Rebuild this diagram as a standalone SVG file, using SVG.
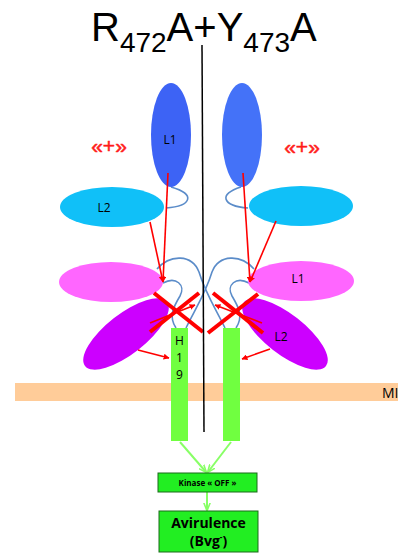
<svg xmlns="http://www.w3.org/2000/svg" width="398" height="553" viewBox="0 0 398 553">
<defs>
<style>
.lbl{font-family:"Open Sans","Liberation Sans",sans-serif;font-size:12px;fill:#000;text-anchor:middle}
.red{stroke:#ff0000;stroke-width:1.6;fill:none}
.x{stroke:#ff0000;stroke-width:4;fill:none}
.link{stroke:#5b8cc9;stroke-width:1.6;fill:none}
.gr{stroke:#88ff66;stroke-width:2;fill:none}
.plus{font-family:"Liberation Sans",sans-serif;font-size:21px;fill:#ff1a1a;text-anchor:middle;stroke:#ff1a1a;stroke-width:0.5}
</style>
<marker id="ar" viewBox="0 0 10 10" refX="9" refY="5" markerWidth="6" markerHeight="6" orient="auto" markerUnits="userSpaceOnUse"><path d="M0,0 L10,5 L0,10 z" fill="#ff0000"/></marker>
<marker id="ag" viewBox="0 0 10 10" refX="9" refY="5" markerWidth="8" markerHeight="8" orient="auto" markerUnits="userSpaceOnUse"><path d="M0,1 L10,5 L0,9" fill="none" stroke="#88ff66" stroke-width="2"/></marker>
</defs>
<rect width="398" height="553" fill="#fff"/>
<text id="title" x="91" y="41" font-family="Liberation Sans,sans-serif" font-size="40" fill="#000">R<tspan font-size="28" dy="11">472</tspan><tspan dy="-11">A+Y</tspan><tspan font-size="28" dy="11">473</tspan><tspan dy="-11">A</tspan></text>
<g id="membrane"><rect x="15" y="383" width="383" height="18" fill="#ffcc99"/><text x="382" y="398" font-family="Open Sans,Liberation Sans,sans-serif" font-size="14" fill="#000">MI</text></g>
<g id="connectors">
<path class="link" d="M171 187 C196 194 192 206 166 208"/>
<path class="link" d="M241 187 C218 194 222 206 248 208"/>
<path class="link" d="M157 269 C170 254 192 254 199 272 C205 292 214 306 225 328"/>
<path class="link" d="M254 269 C241 254 219 254 212 272 C206 292 197 306 186 328"/>
<path class="link" d="M163 283 C176 276 186 285 180 296 C174 306 168 316 176 328"/>
<path class="link" d="M249 283 C236 276 226 285 232 296 C238 306 244 316 236 328"/>
</g>
<g id="L1-left"><ellipse cx="171" cy="135" rx="20" ry="52" fill="#3d63f5"/><text class="lbl" x="170" y="144">L1</text></g>
<g id="L1-right-top"><ellipse cx="242" cy="135" rx="20" ry="52" fill="#4472f8"/></g>
<g id="L2-left"><ellipse cx="112" cy="207" rx="52" ry="20" fill="#10c0f8"/><text class="lbl" x="104" y="212">L2</text></g>
<g id="L2-right-top"><ellipse cx="301" cy="206" rx="52" ry="20" fill="#10c0f8"/></g>
<g id="L1-pink-left"><ellipse cx="111" cy="282" rx="52" ry="20" fill="#ff66ff"/></g>
<g id="L1-pink-right"><ellipse cx="301" cy="281" rx="53" ry="20" fill="#ff66ff"/><text class="lbl" x="298" y="283">L1</text></g>
<g id="L2-purple-left"><ellipse cx="126" cy="334" rx="52" ry="20" fill="#cc00ff" transform="rotate(-38 126 334)"/></g>
<g id="L2-purple-right"><ellipse cx="285" cy="334" rx="52" ry="20" fill="#cc00ff" transform="rotate(38 285 334)"/><text class="lbl" x="281" y="341">L2</text></g>
<g id="H19-left"><rect x="171" y="328" width="17" height="113" fill="#70ff40"/><text class="lbl" x="179.5" y="345">H</text><text class="lbl" x="179.5" y="362">1</text><text class="lbl" x="179.5" y="379">9</text></g>
<g id="H19-right"><rect x="223" y="328" width="17" height="113" fill="#70ff40"/></g>
<g id="plus-left"><text class="plus" x="109" y="153">«+»</text></g>
<g id="plus-right"><text class="plus" x="302" y="154">«+»</text></g>
<g id="arrows">
<line class="red" x1="168" y1="173" x2="163" y2="282" marker-end="url(#ar)"/>
<line class="red" x1="150" y1="222" x2="163" y2="282" marker-end="url(#ar)"/>
<line class="red" x1="243" y1="173" x2="250" y2="282" marker-end="url(#ar)"/>
<line class="red" x1="276" y1="221" x2="250" y2="282" marker-end="url(#ar)"/>
<line class="red" x1="150" y1="323" x2="195" y2="305" marker-end="url(#ar)"/>
<line class="red" x1="262" y1="323" x2="215" y2="305" marker-end="url(#ar)"/>
<line class="red" x1="138" y1="350" x2="169" y2="358" marker-end="url(#ar)"/>
<line class="red" x1="270" y1="349" x2="242" y2="359" marker-end="url(#ar)"/>
<line class="x" x1="154" y1="293" x2="203" y2="332"/>
<line class="x" x1="150" y1="332" x2="199" y2="293"/>
<line class="x" x1="213" y1="293" x2="263" y2="333"/>
<line class="x" x1="208" y1="333" x2="258" y2="294"/>
<line class="gr" x1="180" y1="442" x2="206" y2="472" marker-end="url(#ag)"/>
<line class="gr" x1="231" y1="442" x2="208" y2="472" marker-end="url(#ag)"/>
<line class="gr" x1="207" y1="492" x2="207" y2="510" marker-end="url(#ag)"/>
</g>
<line id="axis" x1="202" y1="45" x2="204" y2="432" stroke="#000" stroke-width="1.5"/>
<g id="kinase"><rect x="158" y="473" width="99" height="19" fill="#22ee22" stroke="#1a6b1a" stroke-width="1"/><text x="207.5" y="486" text-anchor="middle" font-family="Open Sans,Liberation Sans,sans-serif" font-size="8" font-weight="bold" fill="#000">Kinase « OFF »</text></g>
<g id="avirulence"><rect x="159" y="511" width="99" height="41" fill="#22ee22" stroke="#1a6b1a" stroke-width="1"/><text x="208.5" y="528" text-anchor="middle" font-family="Open Sans,Liberation Sans,sans-serif" font-size="14" font-weight="bold" fill="#000">Avirulence</text><text x="208.5" y="546" text-anchor="middle" font-family="Open Sans,Liberation Sans,sans-serif" font-size="14" font-weight="bold" fill="#000">(Bvg<tspan font-size="8" dy="-6">-</tspan><tspan dy="6">)</tspan></text></g>
</svg>
